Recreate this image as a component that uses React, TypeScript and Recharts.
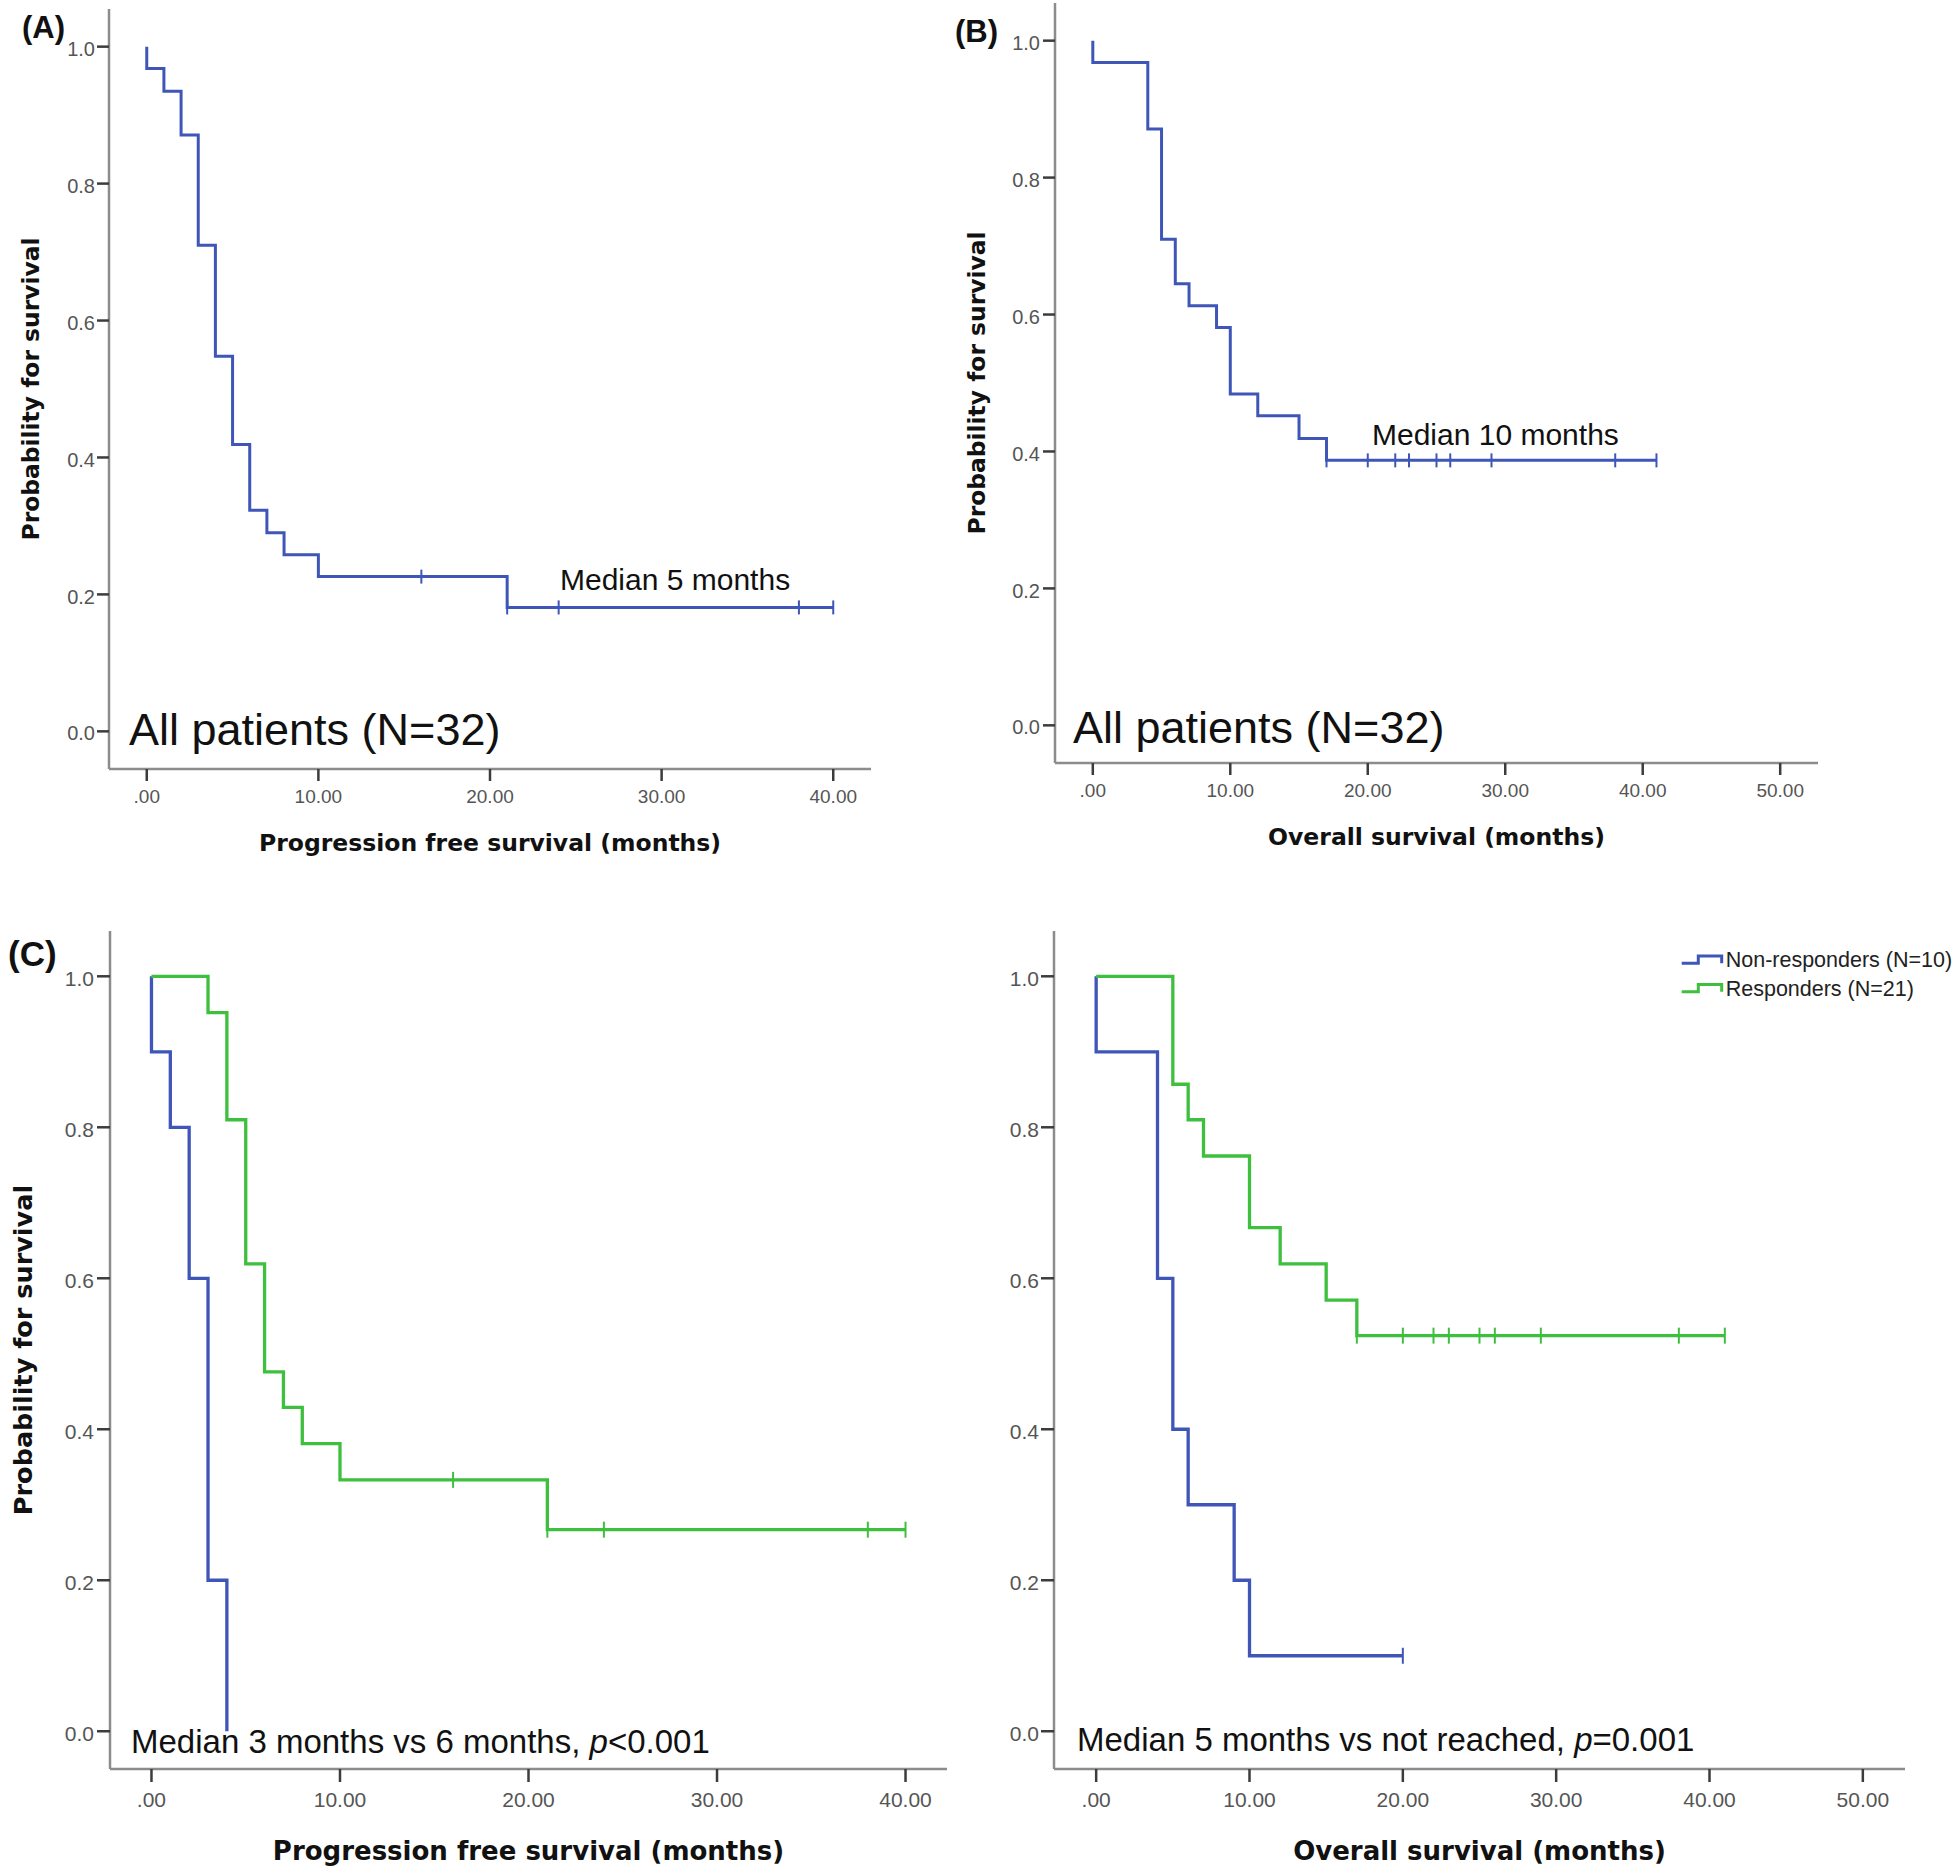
import React from 'react';
import { LineChart, Line, XAxis, YAxis, Legend } from 'recharts';

// ---------- data ----------
const survTicks = [0, 0.2, 0.4, 0.6, 0.8, 1.0];
const pfsTicks = [0, 10, 20, 30, 40];
const osTicks = [0, 10, 20, 30, 40, 50];

// (A) PFS, all patients
const pfsAllTimes = [0, 0, 1, 2, 3, 4, 5, 6, 7, 8, 10, 16, 21, 24, 38, 40];
const pfsAllSurv = [1, 0.968, 0.935, 0.871, 0.71, 0.548, 0.419, 0.323, 0.29, 0.258, 0.226, 0.226, 0.181, 0.181, 0.181, 0.181];
const pfsAllCensored = [0, 0, 0, 0, 0, 0, 0, 0, 0, 0, 0, 1, 1, 1, 1, 1];

// (B) OS, all patients
const osAllTimes = [0, 0, 4, 5, 6, 7, 9, 10, 12, 15, 17, 20, 22, 23, 25, 26, 29, 38, 41];
const osAllSurv = [1, 0.968, 0.871, 0.71, 0.645, 0.613, 0.581, 0.484, 0.452, 0.419, 0.387, 0.387, 0.387, 0.387, 0.387, 0.387, 0.387, 0.387, 0.387];
const osAllCensored = [0, 0, 0, 0, 0, 0, 0, 0, 0, 0, 1, 1, 1, 1, 1, 1, 1, 1, 1];

// (C) PFS by response
const pfsNonTimes = [0, 0, 1, 2, 3, 4];
const pfsNonSurv = [1, 0.9, 0.8, 0.6, 0.2, 0];
const pfsNonCensored = [0, 0, 0, 0, 0, 0];
const pfsRespTimes = [0, 3, 4, 5, 6, 7, 8, 10, 16, 21, 24, 38, 40];
const pfsRespSurv = [1, 0.952, 0.81, 0.619, 0.476, 0.429, 0.381, 0.333, 0.333, 0.267, 0.267, 0.267, 0.267];
const pfsRespCensored = [0, 0, 0, 0, 0, 0, 0, 0, 1, 1, 1, 1, 1];

// (D) OS by response
const osNonTimes = [0, 0, 4, 5, 6, 9, 10, 20];
const osNonSurv = [1, 0.9, 0.6, 0.4, 0.3, 0.2, 0.1, 0.1];
const osNonCensored = [0, 0, 0, 0, 0, 0, 0, 1];
const osRespTimes = [0, 5, 6, 7, 10, 12, 15, 17, 20, 22, 23, 25, 26, 29, 38, 41];
const osRespSurv = [1, 0.857, 0.81, 0.762, 0.667, 0.619, 0.571, 0.524, 0.524, 0.524, 0.524, 0.524, 0.524, 0.524, 0.524, 0.524];
const osRespCensored = [0, 0, 0, 0, 0, 0, 0, 1, 1, 1, 1, 1, 1, 1, 1, 1];

const nameAll = 'All patients';
const nameNon = 'Non-responders (N=10)';
const nameResp = 'Responders (N=21)';

// ---------- styles ----------
const BLUE = '#3f56b8';
const GREEN = '#3ebf3e';
const AXIS = '#8c8c8c';
const TICK = '#3c3c3c';
const TICKTXT = '#555555';
const SANS = 'Liberation Sans, Arial, sans-serif';
const BOLD = 'DejaVu Sans, Verdana, sans-serif';

const build = (t: number[], s: number[], c: number[]) => t.map((v, i) => ({ t: v, s: s[i], c: c[i] }));

const fmtX = (v: number) => (v === 0 ? '.00' : v.toFixed(2));
const fmtY = (v: number) => v.toFixed(1);

const makeCensorDot = (half: number, color: string) => (props: any) => {
  const { cx, cy, payload, index } = props;
  if (!payload || !payload.c || cx == null || cy == null) return <g key={`n${index}`} />;
  return <line key={`c${index}`} x1={cx} x2={cx} y1={cy - half} y2={cy + half} stroke={color} strokeWidth={2} />;
};

const renderLegend = (fs: number) => (props: any) => {
  const payload = props.payload || [];
  return (
    <svg width={300} height={70} style={{ display: 'block', overflow: 'visible' }}>
      {payload.map((e: any, i: number) => {
        const low = 23.3 + i * 28.4;
        const high = low - 7.3;
        return (
          <g key={i}>
            <path d={`M5.7 ${low} H22.3 V${high} H45.7 V${low}`} fill="none" stroke={e.color} strokeWidth={3} />
            <text x={49.7} y={low + 4} fontSize={fs} fontFamily={SANS} fill="#222">{e.value}</text>
          </g>
        );
      })}
    </svg>
  );
};

type Series = { name: string; data: { t: number; s: number; c: number }[]; color: string };

const KMPanel = (p: any) => {
  const xAxisH = p.height - p.plotBottom;
  const series: Series[] = p.series;
  return (
    <div style={{ position: 'absolute', left: p.left, top: p.top, width: p.width, height: p.height }}>
      <LineChart
        width={p.width}
        height={p.height}
        margin={{ top: p.plotTop, right: p.width - p.plotRight, bottom: 0, left: 0 }}
      >
        <XAxis
          type="number"
          dataKey="t"
          domain={p.xDomain}
          ticks={p.xTicks}
          allowDataOverflow
          interval={0}
          height={xAxisH}
          axisLine={{ stroke: AXIS, strokeWidth: 2.5 }}
          tickLine={{ stroke: TICK, strokeWidth: 2.5 }}
          tickSize={p.tickLen}
          tickMargin={p.xTickMargin}
          tick={(tp: any) => (
            <text key={tp.index} x={tp.x} y={tp.y} dy="0.71em" textAnchor="middle" fill={TICKTXT} fontSize={p.xTickFs} fontFamily={SANS}>
              {fmtX(tp.payload.value)}
            </text>
          )}
          label={{
            value: p.xTitle,
            position: 'insideBottom',
            offset: p.xTitleOffset,
            fill: '#111',
            fontSize: p.titleFs,
            fontFamily: BOLD,
            fontWeight: 'bold',
          }}
        />
        <YAxis
          type="number"
          domain={p.yDomain}
          ticks={survTicks}
          allowDataOverflow
          interval={0}
          width={p.plotLeft}
          axisLine={{ stroke: AXIS, strokeWidth: 2.5 }}
          tickLine={{ stroke: TICK, strokeWidth: 2.5 }}
          tickSize={p.tickLen}
          tickMargin={p.yTickMargin}
          tick={(tp: any) => (
            <text key={tp.index} x={tp.x} y={tp.y + p.yTickFs * 0.355 + 2} textAnchor="end" fill={TICKTXT} fontSize={p.yTickFs} fontFamily={SANS}>
              {fmtY(tp.payload.value)}
            </text>
          )}
          label={
            p.yTitle
              ? {
                  value: p.yTitle,
                  angle: -90,
                  position: 'insideLeft',
                  offset: p.yTitleOffset,
                  fill: '#111',
                  fontSize: p.yTitleFs,
                  fontFamily: BOLD,
                  fontWeight: 'bold',
                  style: { textAnchor: 'middle' },
                }
              : undefined
          }
        />
        {series.map((s, i) => (
          <Line
            key={i}
            name={s.name}
            data={s.data}
            dataKey="s"
            type="stepAfter"
            stroke={s.color}
            strokeWidth={p.lineW}
            strokeLinejoin="miter"
            strokeLinecap="butt"
            dot={makeCensorDot(p.censorHalf, s.color)}
            activeDot={false}
            isAnimationActive={false}
            legendType="line"
          />
        ))}
        {p.legend && (
          <Legend
            layout="horizontal"
            verticalAlign="middle"
            align="center"
            content={renderLegend(p.legendFs)}
            wrapperStyle={{ position: 'absolute', left: p.legendLeft, top: p.legendTop, width: 300, height: 70 }}
          />
        )}
      </LineChart>
    </div>
  );
};

export default function App() {
  const sA: Series[] = [{ name: nameAll, data: build(pfsAllTimes, pfsAllSurv, pfsAllCensored), color: BLUE }];
  const sB: Series[] = [{ name: nameAll, data: build(osAllTimes, osAllSurv, osAllCensored), color: BLUE }];
  const sC: Series[] = [
    { name: nameNon, data: build(pfsNonTimes, pfsNonSurv, pfsNonCensored), color: BLUE },
    { name: nameResp, data: build(pfsRespTimes, pfsRespSurv, pfsRespCensored), color: GREEN },
  ];
  const sD: Series[] = [
    { name: nameNon, data: build(osNonTimes, osNonSurv, osNonCensored), color: BLUE },
    { name: nameResp, data: build(osRespTimes, osRespSurv, osRespCensored), color: GREEN },
  ];

  const txt = { fontFamily: SANS, fill: '#111' };

  return (
    <div style={{ position: 'absolute', left: 0, top: 0, width: 1960, height: 1872, background: '#fff', overflow: 'hidden' }}>
      <KMPanel
        left={0} top={0} width={900} height={880}
        plotLeft={109} plotRight={871} plotTop={9} plotBottom={769}
        xDomain={[-2.2, 42.2]} yDomain={[-0.055, 1.055]} xTicks={pfsTicks} series={sA}
        xTitle="Progression free survival (months)" yTitle="Probability for survival"
        tickLen={12} xTickMargin={9} yTickMargin={2} xTickFs={19} yTickFs={20}
        titleFs={23.5} xTitleOffset={29.5} yTitleFs={23.4} yTitleOffset={31}
        lineW={3} censorHalf={7}
      />
      <KMPanel
        left={946} top={0} width={1014} height={880}
        plotLeft={109} plotRight={872} plotTop={3} plotBottom={763}
        xDomain={[-2.75, 52.75]} yDomain={[-0.055, 1.055]} xTicks={osTicks} series={sB}
        xTitle="Overall survival (months)" yTitle="Probability for survival"
        tickLen={12} xTickMargin={9} yTickMargin={3} xTickFs={19} yTickFs={20}
        titleFs={23.5} xTitleOffset={35.5} yTitleFs={23.4} yTitleOffset={31}
        lineW={3} censorHalf={7}
      />
      <KMPanel
        left={0} top={900} width={980} height={972}
        plotLeft={110} plotRight={947} plotTop={31} plotBottom={869}
        xDomain={[-2.2, 42.2]} yDomain={[-0.05, 1.06]} xTicks={pfsTicks} series={sC}
        xTitle="Progression free survival (months)" yTitle="Probability for survival"
        tickLen={13} xTickMargin={10} yTickMargin={3} xTickFs={21} yTickFs={21}
        titleFs={26} xTitleOffset={12.5} yTitleFs={25.5} yTitleOffset={23}
        lineW={3.3} censorHalf={8}
      />
      <KMPanel
        left={946} top={900} width={1014} height={972}
        plotLeft={108} plotRight={959} plotTop={31} plotBottom={869}
        xDomain={[-2.75, 52.75]} yDomain={[-0.05, 1.06]} xTicks={osTicks} series={sD}
        xTitle="Overall survival (months)" yTitle={null}
        tickLen={13} xTickMargin={10} yTickMargin={2} xTickFs={21} yTickFs={21}
        titleFs={26} xTitleOffset={12.5} yTitleFs={25.5} yTitleOffset={23}
        lineW={3.3} censorHalf={8}
        legend legendLeft={730} legendTop={40} legendFs={21.5}
      />
      <svg width={1960} height={1872} style={{ position: 'absolute', left: 0, top: 0, pointerEvents: 'none' }}>
        <text x={22} y={38} fontSize={31} fontWeight="bold" {...txt}>(A)</text>
        <text x={955} y={42} fontSize={31} fontWeight="bold" {...txt}>(B)</text>
        <text x={8} y={966} fontSize={35} fontWeight="bold" {...txt}>(C)</text>
        <text x={129} y={745} fontSize={45} {...txt}>All patients (N=32)</text>
        <text x={1073} y={743} fontSize={45} {...txt}>All patients (N=32)</text>
        <text x={560} y={590} fontSize={30} {...txt}>Median 5 months</text>
        <text x={1372} y={445} fontSize={30} {...txt}>Median 10 months</text>
        <text x={131} y={1753} fontSize={33} {...txt}>
          Median 3 months vs 6 months, <tspan fontStyle="italic">p</tspan>{'<0.001'}
        </text>
        <text x={1077} y={1751} fontSize={33} {...txt}>
          Median 5 months vs not reached, <tspan fontStyle="italic">p</tspan>=0.001
        </text>
      </svg>
    </div>
  );
}
